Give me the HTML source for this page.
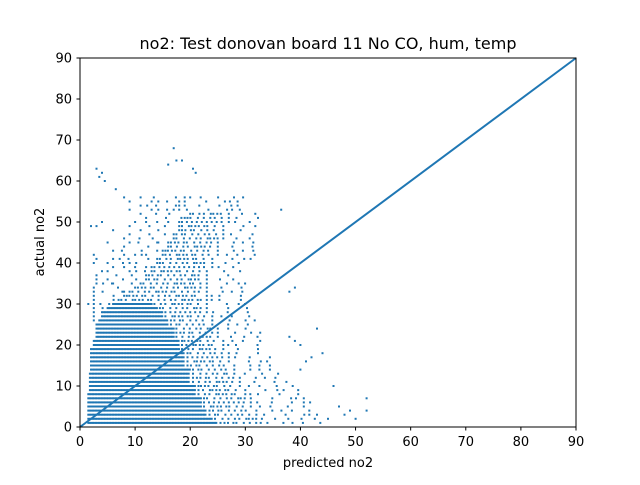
<!DOCTYPE html>
<html><head><meta charset="utf-8"><style>
body{margin:0;background:#fff;}
svg text{font-family:"DejaVu Sans","Liberation Sans",sans-serif;fill:#000;}
</style></head><body>
<svg id="chart" width="640" height="480" viewBox="0 0 640 480" xmlns="http://www.w3.org/2000/svg">
<rect width="640" height="480" fill="#fff"/>
<text x="328" y="49" font-size="16" text-anchor="middle">no2: Test donovan board 11 No CO, hum, temp</text>
<g id="points"></g>
<line id="diag" stroke="#1f77b4" stroke-width="2"/>
<rect x="80" y="58" width="496" height="369" fill="none" stroke="#000" stroke-width="1"/>
<g id="xticks"></g>
<g id="yticks"></g>
<text x="328" y="467" font-size="13" text-anchor="middle">predicted no2</text>
<text transform="translate(44,242) rotate(-90)" font-size="13" text-anchor="middle">actual no2</text>
</svg>
<script>
const xTicks=[0,10,20,30,40,50,60,70,80,90];
const yTicks=[0,10,20,30,40,50,60,70,80,90];
// rows of actual values: dense range, medium range end, sparse range end
const rowY=[1,2,3,4,5,6,7,8,9,10,11,12,13,14,15,16,17,18,19,20,21,22,23,24,25,26,27,28,29,30,31,32,33,34,35,36,37,38,39,40,41,42,43,44,45,46,47,48,49,50,51,52,53,54,55,56];
const denseStart=[1.5,1.5,1.5,1.5,1.5,1.5,1.5,1.5,1.8,1.8,1.8,1.8,1.8,2,2,2,2,2,2,2.5,2.5,3,3,3,3,3.5,4,4,5,6,7,8,9,10,11,12,12,13,13,14,14,15,15,16,16,17,17,18,18,18,19,20,17,18,18,19];
const denseEnd=[25,24,23,23,22,22,22,21,21,21,20,20,20,20,19,19,19,19,18,18,18,17,17,17,16,16,15,15,14,13,7,8,9,10,11,12,12,13,13,14,14,15,15,16,16,17,17,18,18,18,19,20,17,18,18,19];
const midEnd=[33,32,31,31,30,30,30,29,29,28,28,28,27,27,27,26,26,26,25,25,25,24,24,24,23,23,23,22,22,22,22,22,22,22,22,22,22,22,23,23,23,24,24,24,24,25,25,25,25,26,26,26,17,18,18,19];
const sparseEnd=[46,45,44,43,42,42,41,40,40,39,38,38,37,37,36,36,35,35,34,34,34,33,33,32,32,32,31,31,31,30,30,30,30,30,30,30,30,30,31,31,31,32,32,32,32,32,32,32,32,33,33,33,30,30,30,30];
const outX=[3,3.5,4,4.5,6.5,8,3,2,4,6,2.5,3,2.5,10,12,14,9,17,16,18.5,17.5,21,20.5,36.5,38,39,40,43,44,42,47,48,50,52,49,52,38,39,46,41,40,1.5,4,6,8,5,3];
const outY=[63,61,62,60,58,56,49,49,50,48,42,41,40,42,42,45,40,68,64,65,65,62,63,53,22,21,20,24,18,17,5,3,2,7,4,4,33,34,10,16,14,30,38,35,33,45,36];
const X=v=>80+v*496/90, Y=v=>427-v*369/90;
const ns="http://www.w3.org/2000/svg";
const pg=document.getElementById('points');
function dot(x,y){const c=document.createElementNS(ns,'rect');


c.setAttribute('x',(X(x)-1).toFixed(1));c.setAttribute('y',(Y(y)-1).toFixed(1));c.setAttribute('width',2);c.setAttribute('height',2);c.setAttribute('fill','#1f77b4');pg.appendChild(c);}
rowY.forEach((y,i)=>{
 const s=denseStart[i],e=denseEnd[i],m=midEnd[i];
 for(let x=s;x<=e;x+=0.28)dot(x,y);
 let k=i;
 for(let x=e+0.5;x<=m;){dot(x,y);k=(k*7+3)%11;x+=0.45+k*0.09;}
 for(let x=m+1;x<=sparseEnd[i];){dot(x,y);k=(k*5+2)%13;x+=0.9+k*0.25;}
 if(i>=25){for(let x=Math.max(2.5,s-9+(i%3));x<s-0.5;){dot(x,y);k=(k*5+1)%9;x+=1.2+k*0.4;}}
});
outX.forEach((x,i)=>dot(x,outY[i]));
const d=document.getElementById('diag');
d.setAttribute('x1',X(0));d.setAttribute('y1',Y(0));d.setAttribute('x2',X(90));d.setAttribute('y2',Y(90));
const xg=document.getElementById('xticks'),yg=document.getElementById('yticks');
xTicks.forEach(t=>{const l=document.createElementNS(ns,'line');


l.setAttribute('x1',X(t));l.setAttribute('x2',X(t));l.setAttribute('y1',427);l.setAttribute('y2',430.5);l.setAttribute('stroke','#000');xg.appendChild(l);
const tx=document.createElementNS(ns,'text');


tx.setAttribute('x',X(t));tx.setAttribute('y',446);tx.setAttribute('font-size','13');tx.setAttribute('text-anchor','middle');tx.textContent=t;xg.appendChild(tx);});
yTicks.forEach(t=>{const l=document.createElementNS(ns,'line');


l.setAttribute('x1',76.5);l.setAttribute('x2',80);l.setAttribute('y1',Y(t));l.setAttribute('y2',Y(t));l.setAttribute('stroke','#000');yg.appendChild(l);
const tx=document.createElementNS(ns,'text');


tx.setAttribute('x',72);tx.setAttribute('y',Y(t)+4.5);tx.setAttribute('font-size','13');tx.setAttribute('text-anchor','end');tx.textContent=t;yg.appendChild(tx);});
</script>
</body></html>
